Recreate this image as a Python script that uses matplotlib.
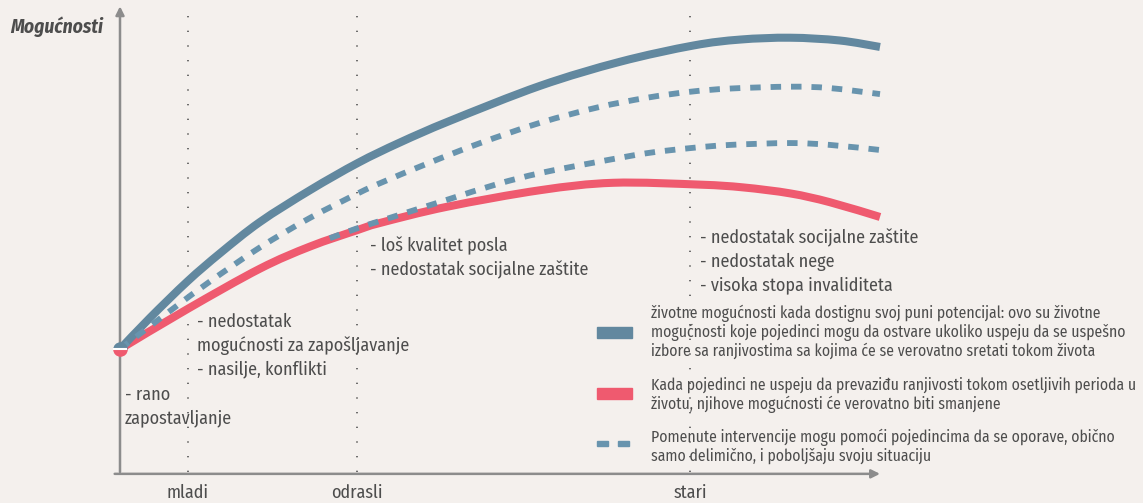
import matplotlib
matplotlib.use('Agg')
import matplotlib.pyplot as plt
import numpy as np
from matplotlib.patches import Rectangle, PathPatch
from matplotlib.path import Path

# life stage (x) and opportunities (y), both scaled 0-100 along the axes
full_x = [0, 3.9, 8.9, 13.2, 18.4, 25.0, 31.3, 36.8, 43.4, 55.3, 65.8, 75.4, 81.6, 88.2, 94.7, 100]
full_y = [26.6, 33.3, 41.3, 47.4, 54.1, 61.0, 66.9, 71.3, 76.0, 83.6, 88.8, 92.3, 93.6, 94.0, 93.4, 92.0]

upper_x = [0, 3.9, 7.5, 11.8, 18.4, 25.0, 31.3, 34.2, 40.8, 47.4, 55.3, 62.8, 69.3, 75.0, 80.3, 88.2, 93.4, 100]
upper_y = [26.6, 31.5, 36.0, 41.2, 48.6, 55.0, 60.3, 62.5, 67.0, 71.2, 75.6, 78.9, 81.0, 82.3, 83.0, 83.4, 83.1, 81.8]

lower_x = [27.6, 31.3, 35.5, 43.0, 49.6, 55.3, 62.8, 69.3, 75.0, 80.3, 88.2, 93.4, 100]
lower_y = [50.6, 52.8, 55.0, 58.9, 62.3, 64.7, 67.1, 69.0, 70.1, 70.8, 71.2, 70.8, 69.7]

reduced_x = [0, 8.9, 18.4, 25.0, 31.3, 34.2, 43.0, 55.3, 64.9, 76.3, 82.0, 88.2, 93.4, 100]
reduced_y = [26.6, 35.3, 44.0, 48.8, 52.4, 53.9, 57.4, 61.0, 62.6, 62.2, 61.6, 60.3, 58.4, 55.2]

stages = ['mladi', 'odrasli', 'stari']
stage_x = [8.9, 31.2, 75.0]

notes = [
    (197, 322, ['- nedostatak', 'mogućnosti za zapošljavanje', '- nasilje, konflikti']),
    (125, 395, ['- rano', 'zapostavljanje']),
    (370, 246, ['- loš kvalitet posla', '- nedostatak socijalne zaštite']),
    (700, 238, ['- nedostatak socijalne zaštite', '- nedostatak nege', '- visoka stopa invaliditeta']),
]

legend_full = ['životne mogućnosti kada dostignu svoj puni potencijal: ovo su životne',
               'mogućnosti koje pojedinci mogu da ostvare ukoliko uspeju da se uspešno',
               'izbore sa ranjivostima sa kojima će se verovatno sretati tokom života']
legend_red = ['Kada pojedinci ne uspeju da prevaziđu ranjivosti tokom osetljivih perioda u',
              'životu, njihove mogućnosti će verovatno biti smanjene']
legend_dash = ['Pomenute intervencije mogu pomoći pojedincima da se oporave, obično',
               'samo delimično, i poboljšaju svoju situaciju']

BG = '#f4f0ed'
BLUE = '#62889f'
DASH = '#6894ae'
RED = '#ef5a6f'
TXT = '#4d4d4d'
AX = '#8c8c8c'
W, H = 1143, 503

plt.rcParams['font.family'] = ['Fira Sans Condensed', 'DejaVu Sans']
plt.rcParams['font.stretch'] = 'condensed'

fig = plt.figure(figsize=(W / 100, H / 100), dpi=100, facecolor=BG)


def fp(x, y):
    # pixel position -> figure fraction
    return x / W, 1 - y / H


def smooth(xs, ys):
    # bezier path through the read points
    p = np.column_stack([xs, ys])
    verts, codes = [p[0]], [Path.MOVETO]
    n = len(p)
    for i in range(n - 1):
        p0 = p[max(i - 1, 0)]
        p1, p2 = p[i], p[i + 1]
        p3 = p[min(i + 2, n - 1)]
        verts += [p1 + (p2 - p0) / 6, p2 - (p3 - p1) / 6, p2]
        codes += [Path.CURVE4] * 3
    return Path(verts, codes)


ax = fig.add_axes([120 / W, (H - 472) / H, 760 / W, 462 / H])
ax.set_facecolor(BG)
ax.set_xlim(0, 100)
ax.set_ylim(0, 100)
ax.axis('off')

# stage dotted guides
for sx in stage_x:
    ax.plot([sx, sx], [0, 100], color='#555555', lw=1.2, ls=(0, (0.8, 8)),
            solid_capstyle='butt', zorder=1)

# axes with arrows
ax.annotate('', xy=(0, 100.8), xytext=(0, 0), annotation_clip=False,
            arrowprops=dict(arrowstyle='-|>,head_length=0.5,head_width=0.25',
                            color=AX, lw=1.8, shrinkA=0, shrinkB=0))
ax.annotate('', xy=(100, -0.4), xytext=(-0.7, -0.4), annotation_clip=False,
            arrowprops=dict(arrowstyle='-|>,head_length=0.5,head_width=0.25',
                            color=AX, lw=1.8, shrinkA=0, shrinkB=0))

# curves
ax.add_patch(PathPatch(smooth(reduced_x, reduced_y), fill=False, edgecolor=RED, lw=5.8,
                       capstyle='butt', zorder=3, clip_on=False))
ax.add_patch(PathPatch(smooth(full_x, full_y), fill=False, edgecolor=BLUE, lw=5.8,
                       capstyle='butt', zorder=4, clip_on=False))
for xs, ys in [(upper_x, upper_y), (lower_x, lower_y)]:
    ax.add_patch(PathPatch(smooth(xs, ys), fill=False, edgecolor=DASH, lw=4.2,
                           linestyle=(0, (1.8, 1.7)), capstyle='butt', zorder=5,
                           clip_on=False))

# starting point
ax.plot([0], [26.6], marker='o', ms=10.5, fillstyle='top', markerfacecolor=BLUE,
        markerfacecoloralt=RED, markeredgewidth=0, zorder=6, clip_on=False)
ax.plot([0], [26.6], marker='_', ms=10, mew=1.5, color='white', zorder=7, clip_on=False)

# labels
fig.text(*fp(10, 27), 'Mogućnosti', fontsize=14, fontweight='bold', style='italic',
         color=TXT, ha='left', va='center')
for name, sx in zip(stages, stage_x):
    fig.text(*fp(120 + sx * 7.6, 493), name, fontsize=13, color=TXT,
             ha='center', va='center')

for x0, y0, lines in notes:
    for i, line in enumerate(lines):
        fig.text(*fp(x0, y0 + i * 23.5), line, fontsize=13, color=TXT,
                 ha='left', va='center')

# legend
fig.patches.append(Rectangle(fp(597, 338), 35 / W, 11 / H, transform=fig.transFigure,
                             color=BLUE, figure=fig))
fig.patches.append(Rectangle(fp(597, 399), 35 / W, 11 / H, transform=fig.transFigure,
                             color=RED, figure=fig))
fig.patches.append(Rectangle(fp(597, 446), 11 / W, 5 / H, transform=fig.transFigure,
                             color=DASH, figure=fig))
fig.patches.append(Rectangle(fp(618, 446), 11 / W, 5 / H, transform=fig.transFigure,
                             color=DASH, figure=fig))

for y0, lines in [(313, legend_full), (385, legend_red), (437, legend_dash)]:
    for i, line in enumerate(lines):
        fig.text(*fp(651, y0 + i * 19), line, fontsize=11.3, color=TXT,
                 ha='left', va='center')

fig.savefig('out.png', dpi=100, facecolor=BG)
